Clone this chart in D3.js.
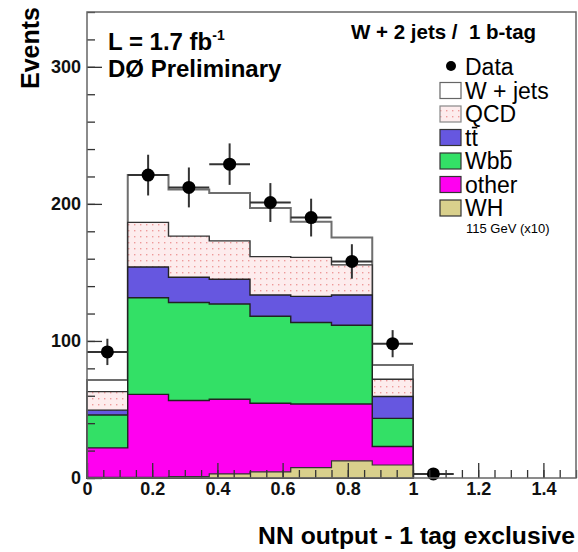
<!DOCTYPE html>
<html>
<head>
<meta charset="utf-8">
<script src="https://cdn.jsdelivr.net/npm/d3@7"></script>
<style>
  html, body { margin: 0; padding: 0; background: #fff; }
  svg { display: block; font-family: "Liberation Sans", Arial, Helvetica, sans-serif; }
</style>
</head>
<body>
<svg id="chart" width="578" height="552"></svg>
<script>
// NN output histogram, W + 2 jets / 1 b-tag
const binEdges = [0, 0.125, 0.25, 0.375, 0.5, 0.625, 0.75, 0.875, 1.0, 1.125];

// Background processes, events per bin (stacked bottom -> top)
const other = [22, 61, 56.5, 57.5, 54.5, 54, 54, 23];
const wbb   = [24, 70.5, 71.5, 69.5, 63.5, 59.5, 57.5, 20.5];
const ttbar = [3.5, 22.5, 18.5, 18, 15.5, 19, 22, 16];
const qcd   = [13.5, 32.5, 30, 28, 28, 28.5, 22, 12.5];
const wjets = [8.5, 34.5, 34, 35, 35.5, 26, 20, 10.5];
// Signal, WH (m_H = 115 GeV) scaled x10
const whSignal = [0.5, 0.5, 1, 3, 4.5, 7.5, 12.5, 9.5];
// Observed events
const dataCounts = [92, 221, 212, 229, 201, 190, 158, 98, 3];

const xMajorTicks = [0, 0.2, 0.4, 0.6, 0.8, 1.0, 1.2, 1.4];
const yMajorTicks = [0, 100, 200, 300];

const svg = d3.select("#chart");
const x = d3.scaleLinear().domain([0, 1.5]).range([87, 576]);
const y = d3.scaleLinear().domain([0, 340]).range([478, 12]);

// dotted fill for QCD
const defs = svg.append("defs");
const pat = defs.append("pattern").attr("id", "qcdFill")
  .attr("patternUnits", "userSpaceOnUse").attr("width", 6).attr("height", 6);
pat.append("rect").attr("width", 6).attr("height", 6).attr("fill", "#fdeced");
pat.append("rect").attr("x", 2).attr("y", 2).attr("width", 1.4).attr("height", 1.4).attr("fill", "#ee9a9a");

const keys = ["other", "wbb", "ttbar", "qcd", "wjets"];
const rows = other.map((_, i) => ({
  other: other[i], wbb: wbb[i], ttbar: ttbar[i], qcd: qcd[i], wjets: wjets[i]
}));
const stacked = d3.stack().keys(keys)(rows);

function stepPoints(values) {
  const pts = [];
  values.forEach((v, i) => {
    pts.push([binEdges[i], v]);
    pts.push([binEdges[i + 1], v]);
  });
  return pts;
}
const area = d3.area().x(d => x(d[0])).y0(y(0)).y1(d => y(d[1]));

const styles = {
  wjets: { fill: "#ffffff", stroke: "#6e6e6e", sw: 2 },
  qcd:   { fill: "url(#qcdFill)", stroke: "#333", sw: 1.4 },
  ttbar: { fill: "#6657e0", stroke: "#222", sw: 1.4 },
  wbb:   { fill: "#33e066", stroke: "#222", sw: 1.4 },
  other: { fill: "#ff00f0", stroke: "#222", sw: 1.4 }
};

const histG = svg.append("g");
// draw cumulative histograms from the top of the stack down
stacked.slice().reverse().forEach(layer => {
  const tops = layer.map(d => d[1]);
  const s = styles[layer.key];
  histG.append("path")
    .attr("d", area(stepPoints(tops)))
    .attr("fill", s.fill).attr("stroke", s.stroke).attr("stroke-width", s.sw);
});
// signal drawn from zero
histG.append("path")
  .attr("d", area(stepPoints(whSignal)))
  .attr("fill", "#d9d08c").attr("stroke", "#333").attr("stroke-width", 1.2);

// data points with statistical errors
const dataG = svg.append("g");
dataCounts.forEach((n, i) => {
  const lo = binEdges[i], hi = binEdges[i + 1], c = (lo + hi) / 2;
  const e = Math.sqrt(n);
  dataG.append("line").attr("x1", x(lo)).attr("x2", x(hi))
    .attr("y1", y(n)).attr("y2", y(n)).attr("stroke", "#333").attr("stroke-width", 2);
  dataG.append("line").attr("x1", x(c)).attr("x2", x(c))
    .attr("y1", y(n - e)).attr("y2", y(n + e)).attr("stroke", "#333").attr("stroke-width", 2);
  dataG.append("circle").attr("cx", x(c)).attr("cy", y(n)).attr("r", 6.5).attr("fill", "#000");
});

// axes with inward ticks
const fmt = d3.format("~g");
const xAxis = svg.append("g").attr("transform", `translate(0,${y(0)})`)
  .call(d3.axisBottom(x).tickValues(xMajorTicks).tickSize(-15).tickPadding(12).tickFormat(fmt));
svg.append("g").attr("transform", `translate(0,${y(0)})`)
  .call(d3.axisBottom(x).tickValues(d3.range(0, 1.5001, 0.05)).tickSize(-8).tickFormat(""));
const yAxis = svg.append("g").attr("transform", `translate(${x(0)},0)`)
  .call(d3.axisLeft(y).tickValues(yMajorTicks).tickSize(-15).tickPadding(6).tickFormat(fmt));
svg.append("g").attr("transform", `translate(${x(0)},0)`)
  .call(d3.axisLeft(y).tickValues(d3.range(0, 341, 20)).tickSize(-8).tickFormat(""));
svg.selectAll(".domain").remove();
svg.selectAll(".tick line").attr("stroke", "#333").attr("stroke-width", 1.3);
xAxis.selectAll("text").attr("font-size", 18).attr("font-weight", "bold").attr("fill", "#111")
  .attr("font-family", "Liberation Sans, Arial, sans-serif").attr("dy", "0.3em");
yAxis.selectAll("text").attr("font-size", 18).attr("font-weight", "bold").attr("fill", "#111")
  .attr("font-family", "Liberation Sans, Arial, sans-serif");

// frame
svg.append("rect").attr("x", x(0)).attr("y", y(340))
  .attr("width", x(1.5) - x(0)).attr("height", y(0) - y(340))
  .attr("fill", "none").attr("stroke", "#666").attr("stroke-width", 1.5);

// axis titles
svg.append("text").attr("transform", "translate(39,7) rotate(-90)")
  .attr("text-anchor", "end").attr("font-size", 25).attr("font-weight", "bold")
  .text("Events");
svg.append("text").attr("x", 575).attr("y", 544).attr("text-anchor", "end")
  .attr("font-size", 24.7).attr("font-weight", "bold")
  .text("NN output - 1 tag exclusive");

// labels inside the frame
const lum = svg.append("text").attr("x", 108).attr("y", 50)
  .attr("font-size", 24).attr("font-weight", "bold");
lum.append("tspan").text("L = 1.7 fb");
lum.append("tspan").attr("dy", -10).attr("font-size", 14).text("-1");
svg.append("text").attr("x", 108).attr("y", 77)
  .attr("font-size", 24).attr("font-weight", "bold").text("DØ Preliminary");
svg.append("text").attr("x", 351).attr("y", 39)
  .attr("font-size", 20.5).attr("font-weight", "bold").style("white-space", "pre")
  .text("W + 2 jets /  1 b-tag");

// legend
const legendItems = [
  { label: "W + jets", fill: "#ffffff", stroke: "#666" },
  { label: "QCD", fill: "url(#qcdFill)", stroke: "#888" },
  { label: "tt", fill: "#6657e0", stroke: "#333", barOnLast: true },
  { label: "Wbb", fill: "#33e066", stroke: "#333", barOnLast: true },
  { label: "other", fill: "#ff00f0", stroke: "#333" },
  { label: "WH", fill: "#d9d08c", stroke: "#333" }
];
const lg = svg.append("g");
const rowY0 = 67, rowStep = 23.5, legendFont = 23;
lg.append("circle").attr("cx", 451).attr("cy", rowY0 - 1).attr("r", 5).attr("fill", "#000");
lg.append("text").attr("x", 465).attr("y", rowY0 + 8).attr("font-size", legendFont).text("Data");
legendItems.forEach((it, i) => {
  const cy = rowY0 + rowStep * (i + 1);
  lg.append("rect").attr("x", 440).attr("y", cy - 8).attr("width", 21).attr("height", 16)
    .attr("fill", it.fill).attr("stroke", it.stroke).attr("stroke-width", 1.2);
  const t = lg.append("text").attr("x", 465).attr("y", cy + 8)
    .attr("font-size", legendFont).text(it.label);
  if (it.barOnLast) {
    // anti-particle bar over the final letter
    const node = t.node();
    const k = it.label.length - 1;
    const p0 = node.getStartPositionOfChar(k), p1 = node.getEndPositionOfChar(k);
    lg.append("line").attr("x1", p0.x + 0.5).attr("x2", p1.x - 0.5)
      .attr("y1", cy + 8 - legendFont * 0.78).attr("y2", cy + 8 - legendFont * 0.78)
      .attr("stroke", "#000").attr("stroke-width", 1.6);
  }
});
lg.append("text").attr("x", 466).attr("y", rowY0 + rowStep * 7 + 1)
  .attr("font-size", 13).text("115 GeV (x10)");
</script>
</body>
</html>
